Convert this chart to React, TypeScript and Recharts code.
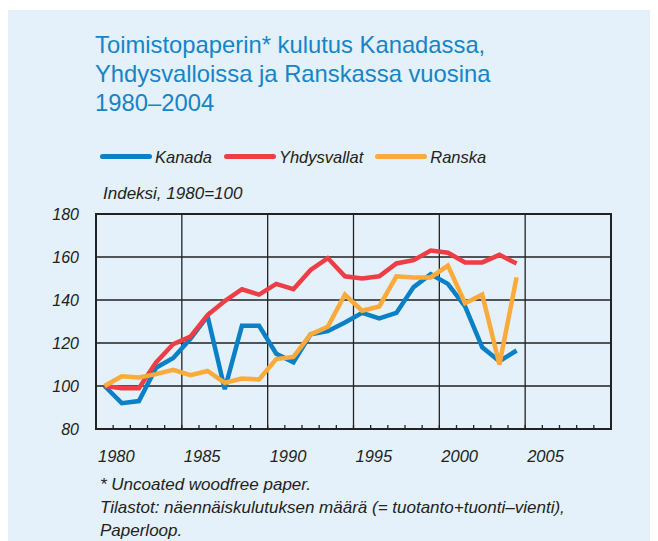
import { LineChart, Line, XAxis, YAxis, CartesianGrid, ReferenceLine, ReferenceArea } from 'recharts'

const YEARS = [
  1980, 1981, 1982, 1983, 1984, 1985, 1986, 1987, 1988, 1989, 1990, 1991, 1992,
  1993, 1994, 1995, 1996, 1997, 1998, 1999, 2000, 2001, 2002, 2003, 2004,
]
const KANADA = [
  100, 92, 93, 108.5, 113, 122, 132.5, 98.5, 128, 128, 115, 111, 124,
  125.5, 129.5, 134, 131.5, 134, 146, 152, 147.5, 137, 118, 111.5, 116.5,
]
const YHDYSVALLAT = [
  100, 99, 99, 111, 119.5, 123, 133, 139.5, 145, 142.5, 147.5, 145, 154,
  159.5, 151, 150, 151, 157, 158.5, 163, 162, 157.5, 157.5, 161, 157,
]
const RANSKA = [
  100, 104.5, 104, 105.5, 107.5, 105, 107, 101.5, 103.5, 103, 112.5, 113.5, 124,
  127.5, 142.5, 135, 137, 151, 150.5, 150.5, 156, 138.5, 142.5, 110, 150.5,
]
const X_TICKS = Array.from({ length: 31 }, (_, i) => 1980 + i)
const X_LABELS = [1980, 1985, 1990, 1995, 2000, 2005]
const Y_TICKS = [80, 100, 120, 140, 160, 180]

const FONT = "'Liberation Sans', Arial, sans-serif"
const INK = '#222222'
const BLUE = '#0a80c6'
const RED = '#ee3e45'
const ORANGE = '#fcaa3a'

const SERIES = [
  { key: 'kanada', name: 'Kanada', color: BLUE },
  { key: 'yhdysvallat', name: 'Yhdysvallat', color: RED },
  { key: 'ranska', name: 'Ranska', color: ORANGE },
]

// annual values sit in the middle of each year slot
const chartData = YEARS.map((year, i) => ({
  x: year + 0.5,
  kanada: KANADA[i],
  yhdysvallat: YHDYSVALLAT[i],
  ranska: RANSKA[i],
}))

function YearTick(props: any) {
  const { x, y, payload } = props
  const year = payload.value as number
  return (
    <g>
      <line x1={x} x2={x} y1={y} y2={y - 4} stroke={INK} strokeWidth={1.3} />
      {X_LABELS.includes(year) && (
        <text x={x + 2} y={y + 33} fontSize={16.5} fontStyle="italic" fill={INK} fontFamily={FONT}>
          {year}
        </text>
      )}
    </g>
  )
}

export default function App() {
  return (
    <div style={{ position: 'relative', width: 650, height: 533, fontFamily: FONT }}>
      <div style={{ position: 'absolute', left: 0, top: 2, width: 650, height: 531, background: '#e4f0fa' }} />

      <div style={{ position: 'absolute', left: 87, top: 23.3, fontSize: 23.8, lineHeight: '28.8px', color: '#1584c8' }}>
        Toimistopaperin* kulutus Kanadassa,<br />
        Yhdysvalloissa ja Ranskassa vuosina<br />
        1980–2004
      </div>

      <div style={{ position: 'absolute', left: 92, top: 139, display: 'flex', gap: 12, alignItems: 'center' }}>
        {SERIES.map(s => (
          <div key={s.key} style={{ display: 'flex', alignItems: 'center' }}>
            <div style={{ width: 52, height: 5, borderRadius: 3, background: s.color, marginRight: 3, marginTop: -1 }} />
            <span style={{ fontSize: 16.5, lineHeight: '20px', fontStyle: 'italic', color: INK }}>{s.name}</span>
          </div>
        ))}
      </div>

      <div style={{ position: 'absolute', left: 95, top: 176, fontSize: 17, lineHeight: '20px', fontStyle: 'italic', color: INK }}>
        Indeksi, 1980=100
      </div>

      <div style={{ position: 'absolute', left: 0, top: 0 }}>
        <LineChart width={650} height={460} data={chartData} margin={{ top: 206, right: 47, left: 38, bottom: 9 }}>
          <CartesianGrid vertical={false} stroke={INK} strokeWidth={1.3} />
          {X_LABELS.slice(1).map(v => (
            <ReferenceLine key={v} x={v} stroke={INK} strokeWidth={1.3} />
          ))}
          <XAxis
            dataKey="x"
            type="number"
            domain={[1980, 2010]}
            ticks={X_TICKS}
            interval={0}
            height={30}
            tickSize={0}
            tickMargin={0}
            axisLine={false}
            tick={<YearTick />}
          />
          <YAxis
            type="number"
            domain={[80, 180]}
            ticks={Y_TICKS}
            width={50}
            tickSize={0}
            tickMargin={17}
            axisLine={false}
            tickLine={false}
            tick={{ fontSize: 16, fontStyle: 'italic', fill: INK, fontFamily: FONT }}
          />
          <ReferenceArea x1={1980} x2={2010} y1={80} y2={180} fill="none" stroke={INK} strokeWidth={2} />
          {SERIES.map(s => (
            <Line
              key={s.key}
              dataKey={s.key}
              name={s.name}
              stroke={s.color}
              strokeWidth={4.5}
              dot={false}
              activeDot={false}
              isAnimationActive={false}
            />
          ))}
        </LineChart>
      </div>

      <div style={{ position: 'absolute', left: 92, top: 465, fontSize: 17, lineHeight: '23px', fontStyle: 'italic', color: INK }}>
        * Uncoated woodfree paper.<br />
        Tilastot: näennäiskulutuksen määrä (= tuotanto+tuonti–vienti),<br />
        Paperloop.
      </div>
    </div>
  )
}
